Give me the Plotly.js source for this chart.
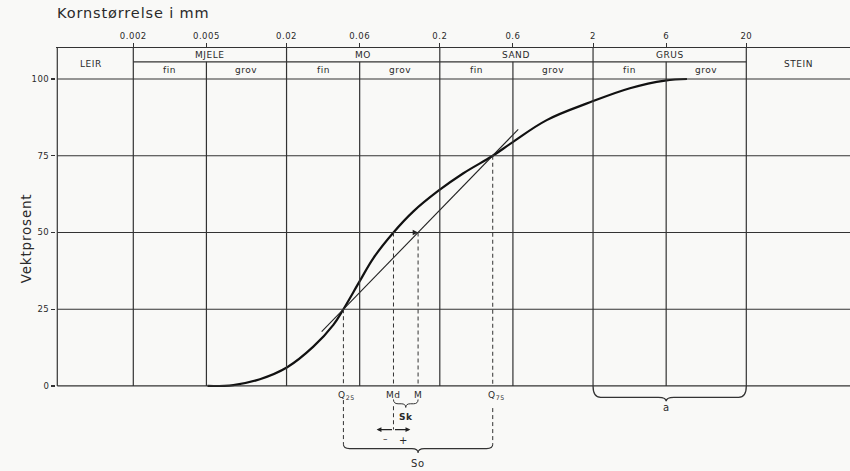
<!DOCTYPE html>
<html><head><meta charset="utf-8">
<script src="https://cdn.plot.ly/plotly-3.0.1.min.js"></script>
<style>
html,body{margin:0;padding:0;background:#f9f9f7;}
#chart{width:850px;height:471px;}
svg text{letter-spacing:0.06em;}
</style>
</head><body><div id="chart"></div>
<script>
// ---- data ----
const gridValues = [0.002, 0.006, 0.02, 0.06, 0.2, 0.6, 2, 6, 20];
const tickLabels = ["0.002", "0.005", "0.02", "0.06", "0.2", "0.6", "2", "6", "20"];
const mainClasses = ["MJELE", "MO", "SAND", "GRUS"];
const subClasses = ["fin", "grov"];
const edgeClasses = ["LEIR", "STEIN"];
const percentTicks = [0, 25, 50, 75, 100];

const grainSize = [0.0061, 0.009, 0.0134, 0.0202, 0.0299, 0.0404, 0.047, 0.0603, 0.0736, 0.0997, 0.134, 0.196, 0.285, 0.443, 0.589, 0.997, 1.91, 3.48, 5.9, 8.2];
const weightPct = [0, 0.3, 2.2, 6.1, 12.8, 19.9, 25, 34.3, 41.6, 50, 56.8, 63.6, 69.3, 75, 79.2, 86.6, 92.4, 97, 99.5, 100];

const fitLineX = [0.0339, 0.65];
const fitLineY = [17.7, 83.6];

const q25 = 0.047, md = 0.0997, m = 0.1443, q75 = 0.443;
const statLevels = [25, 50, 75];

// ---- layout helpers ----
const xRange = [-3.2034, 1.9777];
const yRange = [-27.7, 110.1];
const yTop = 110.1, headerMid = 105.6;
const L = Math.log10;
const P = v => Math.pow(10, v);
const leftEdge = P(-3.195), rightEdge = P(1.99);
const lineCol = '#333333', txtCol = '#2a2a2a';
const FONT = 'DejaVu Sans';

const shapes = [];
function seg(x0, y0, x1, y1, opts) {
  shapes.push(Object.assign({type: 'line', xref: 'x', yref: 'y', x0, y0, x1, y1,
    line: {color: lineCol, width: 1.2}, layer: 'above'}, opts || {}));
}
// vertical grid lines
gridValues.forEach((v, i) => seg(v, 0, v, i % 2 === 0 ? yTop : headerMid));
// left border
seg(leftEdge, 0, leftEdge, yTop);
// horizontal grid lines
percentTicks.forEach(p => seg(leftEdge, p, rightEdge, p));
// header middle line
seg(gridValues[0], headerMid, gridValues[gridValues.length - 1], headerMid);

// dashed guide lines
const dash = {line: {color: lineCol, width: 1, dash: '4px,3px'}};
seg(q25, statLevels[0], q25, 0, dash);
seg(q25, -4.6, q25, -19, dash);
seg(md, statLevels[1], md, 0, dash);
seg(md, -6.6, md, -14.2, dash);
seg(m, statLevels[1], m, 0, dash);
seg(q75, statLevels[2], q75, 0, dash);
seg(q75, -7.2, q75, -19, dash);

function brace(xl, xr, xc, y0, yMid, yTip, r) {
  return `M ${P(xl)},${y0} Q ${P(xl)},${yMid} ${P(xl + r)},${yMid} L ${P(xc - r)},${yMid} ` +
    `Q ${P(xc)},${yMid} ${P(xc)},${yTip} Q ${P(xc)},${yMid} ${P(xc + r)},${yMid} ` +
    `L ${P(xr - r)},${yMid} Q ${P(xr)},${yMid} ${P(xr)},${y0}`;
}
function pathShape(d, w) {
  shapes.push({type: 'path', xref: 'x', yref: 'y', path: d, line: {color: lineCol, width: w || 1.2}, layer: 'above'});
}
pathShape(brace(L(q25), L(q75), (L(q25) + L(q75)) / 2, -19, -20.4, -21.8, 0.04), 1.1);
pathShape(brace(L(md), L(m), (L(md) + L(m)) / 2, -4.4, -5.8, -7.0, 0.03), 1);
pathShape(brace(L(2), L(20), L(6), 0, -3.7, -5.0, 0.05), 1.3);

// ---- annotations ----
const ann = [];
function txt(x, y, text, size, extra) {
  ann.push(Object.assign({xref: 'x', yref: 'y', x, y, text, showarrow: false,
    font: {family: FONT, size: size || 9, color: txtCol}}, extra || {}));
}
mainClasses.forEach((c, i) => txt((L(gridValues[2 * i]) + L(gridValues[2 * i + 2])) / 2, 107.9, c, 9));
for (let j = 0; j < gridValues.length - 1; j++) {
  txt((L(gridValues[j]) + L(gridValues[j + 1])) / 2, 102.8, subClasses[j % 2], 9);
}
txt((-3.195 + L(gridValues[0])) / 2 - 0.03, 105.0, edgeClasses[0], 9);
txt((L(gridValues[gridValues.length - 1]) + 1.9777) / 2, 105.0, edgeClasses[1], 9);

txt(L(q25), 0, 'Q<sub>25</sub>', 9, {xanchor: 'left', xshift: -7, yanchor: 'top', yshift: -2});
txt(L(md), 0, 'Md', 9, {yanchor: 'top', yshift: -2});
txt(L(m), 0, 'M', 9, {yanchor: 'top', yshift: -2});
txt(L(q75), 0, 'Q<sub>75</sub>', 9, {xanchor: 'left', xshift: -7, yanchor: 'top', yshift: -2});
txt((L(md) + L(m)) / 2, -10.2, '<b>Sk</b>', 9);
txt(L(md), -17.2, '–', 9, {xshift: -8});
txt(L(md), -17.6, '+', 10, {xshift: 10});
txt((L(q25) + L(q75)) / 2, -25.2, 'So', 10);
txt(L(6), -7.0, 'a', 10);

// arrows
const arr = {arrowcolor: '#222', arrowwidth: 1.2, arrowhead: 2, arrowsize: 0.9, showarrow: true, text: '',
  xref: 'x', yref: 'y', axref: 'x', ayref: 'y'};
ann.push(Object.assign({}, arr, {x: L(m), y: statLevels[1], ax: L(md), ay: statLevels[1]}));
ann.push(Object.assign({}, arr, {x: L(md) - 0.11, y: -14.2, ax: L(md), ay: -14.2, arrowsize: 0.8}));
ann.push(Object.assign({}, arr, {x: L(md) + 0.11, y: -14.2, ax: L(md), ay: -14.2, arrowsize: 0.8}));

// y-axis title
ann.push({xref: 'paper', yref: 'y', x: -0.05, y: 48.2, text: 'Vektprosent', textangle: -90,
  showarrow: false, font: {family: FONT, size: 13.5, color: txtCol}});

const traces = [
  {x: grainSize, y: weightPct, type: 'scatter', mode: 'lines',
   line: {color: '#111', width: 2.2, shape: 'spline', smoothing: 1.1}, hoverinfo: 'skip'},
  {x: fitLineX, y: fitLineY, type: 'scatter', mode: 'lines',
   line: {color: '#222', width: 1.1}, hoverinfo: 'skip'}
];

const layout = {
  width: 850, height: 471,
  margin: {l: 56, r: 0, t: 48, b: 0},
  paper_bgcolor: '#f9f9f7', plot_bgcolor: '#f9f9f7',
  showlegend: false,
  font: {family: FONT, color: txtCol},
  title: {text: 'Kornstørrelse i mm', x: 57 / 850, xanchor: 'left', xref: 'container',
    y: 1 - 13 / 471, yanchor: 'middle', yref: 'container',
    font: {family: FONT, size: 14.5, color: txtCol}},
  xaxis: {type: 'log', side: 'top', range: xRange, tickvals: gridValues, ticktext: tickLabels,
    ticks: 'outside', ticklen: 4, tickwidth: 1, tickcolor: lineCol,
    showline: true, linecolor: lineCol, linewidth: 1.2, showgrid: false, zeroline: false,
    tickfont: {family: FONT, size: 8.5, color: txtCol}, fixedrange: true},
  yaxis: {range: yRange, tickvals: percentTicks, ticks: 'outside', ticklen: 4, tickwidth: 1.2,
    tickcolor: lineCol, showline: false, showgrid: false, zeroline: false,
    tickfont: {family: FONT, size: 8.5, color: txtCol}, fixedrange: true},
  shapes: shapes,
  annotations: ann
};

Plotly.newPlot('chart', traces, layout, {displayModeBar: false, staticPlot: true});
</script>
</body></html>
